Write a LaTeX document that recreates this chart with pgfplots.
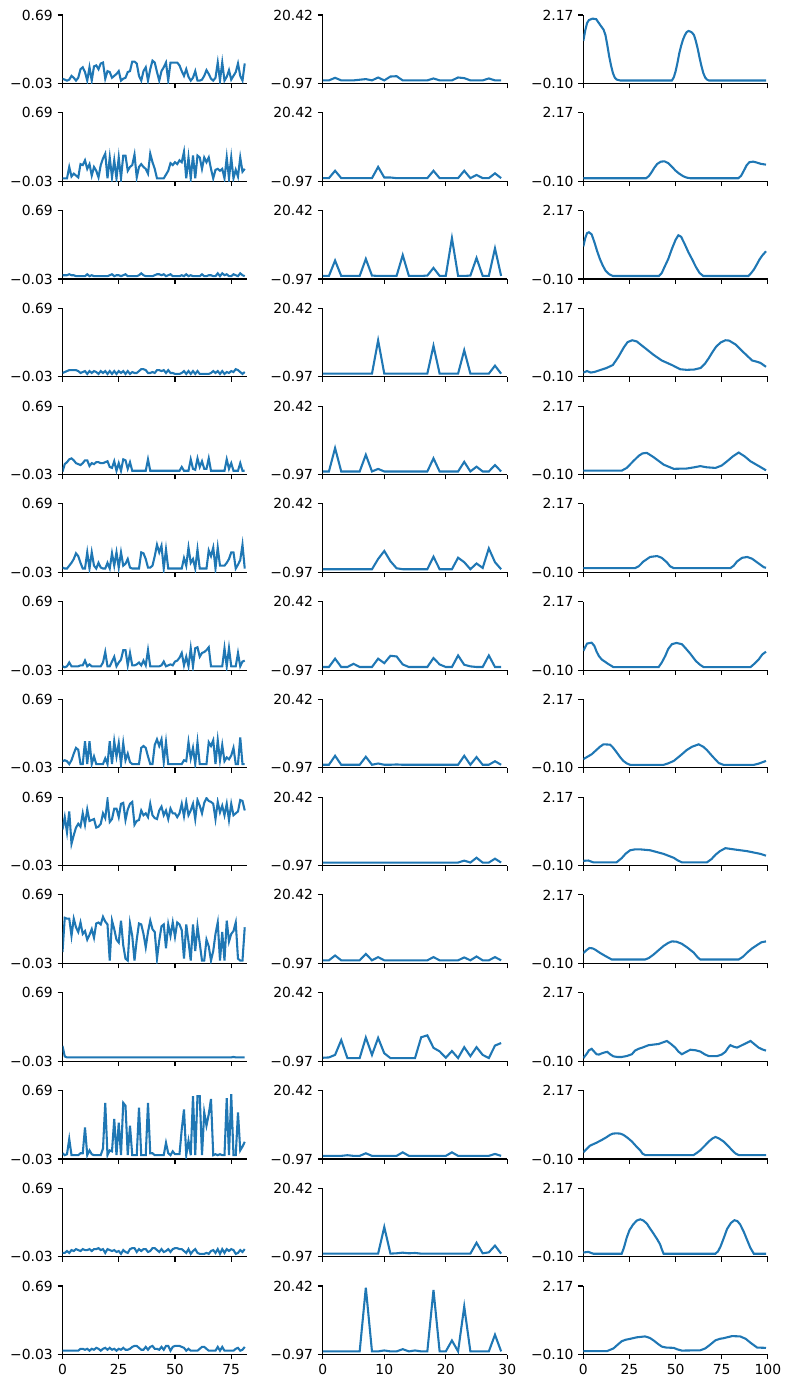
\documentclass[border=0pt]{standalone}
\usepackage{fontspec}
\setmainfont{DejaVu Sans}
\usepackage{pgfplots}
\pgfplotsset{compat=1.18}
\definecolor{mplblue}{RGB}{31,119,180}

\pgfplotsset{
  cell/.style={
    width=132.84pt, height=49.32pt, scale only axis,
    anchor=north west,
    axis x line*=bottom, axis y line*=left,
    axis line style={black, line width=0.8pt, -},
    tick align=outside, major tick length=3.5pt,
    every tick/.style={black, line width=0.8pt},
    tick label style={font=\fontsize{10}{12}\selectfont},
  },
  colA/.style={cell, xmin=0, xmax=82, ymin=-0.03, ymax=0.69,
    xtick={0,25,50,75}, xticklabels={0,25,50,75},
    ytick={-0.03,0.69}, yticklabels={−0.03,0.69}},
  colB/.style={cell, xmin=0, xmax=30, ymin=-0.97, ymax=20.42,
    xtick={0,10,20,30}, xticklabels={0,10,20,30},
    ytick={-0.97,20.42}, yticklabels={−0.97,20.42}},
  colC/.style={cell, xmin=0, xmax=100, ymin=-0.10, ymax=2.17,
    xtick={0,25,50,75,100}, xticklabels={0,25,50,75,100},
    ytick={-0.10,2.17}, yticklabels={−0.10,2.17}},
  series/.style={mplblue, line width=1.5pt, mark=none},
}

% one value per step, x = index
\newcommand{\idx}[1]{\addplot[series] table[row sep=\\, header=false, x expr=\coordindex, y index=0] {#1};}

% #1 top of row, #2 extra options, #3 left data, #4 middle data, #5 right coordinates
\newcommand{\trio}[5]{%
  \begin{axis}[colA, at={(45pt,#1)}, #2]\idx{#3}\end{axis}
  \begin{axis}[colB, at={(232.4pt,#1)}, #2]\idx{#4}\end{axis}
  \begin{axis}[colC, at={(420pt,#1)}, #2]\addplot[series] coordinates {#5};\end{axis}}

\begin{document}
\begin{tikzpicture}
\path[use as bounding box] (0,0) rectangle (568.8pt,1000.08pt);

% row 1
\trio{989.28pt}{xticklabels={}}
{0.02\\0.01\\0.00\\0.01\\0.05\\0.03\\0.00\\0.03\\0.12\\0.14\\0.09\\0.00\\0.14\\0.00\\0.15\\0.16\\0.12\\0.18\\0.19\\0.02\\0.10\\0.09\\0.03\\0.05\\0.07\\0.10\\0.00\\0.02\\0.03\\0.09\\0.10\\0.20\\0.20\\0.18\\0.05\\0.00\\0.10\\0.14\\0.00\\0.12\\0.21\\0.19\\0.09\\0.00\\0.10\\0.14\\0.19\\0.00\\0.19\\0.19\\0.19\\0.19\\0.16\\0.10\\0.05\\0.12\\0.04\\0.00\\0.03\\0.10\\0.00\\0.00\\0.01\\0.05\\0.11\\0.07\\0.02\\0.00\\0.03\\0.19\\0.00\\0.19\\0.00\\0.04\\0.11\\0.01\\0.05\\0.09\\0.18\\0.05\\0.00\\0.18\\}
{0\\0\\0.8\\0\\0\\0\\0.2\\0.4\\0\\0.9\\0\\1.2\\1.3\\0\\0\\0\\0\\0\\0.6\\0\\0\\0\\0.9\\0.7\\0\\0\\0\\0.6\\0\\0\\}
{(0,1.31)(1,1.65)(2,1.9)(3,2.0)(5,2.05)(7,2.03)(9,1.85)(11,1.68)(12,1.5)(13,1.17)(14,0.8)(15,0.5)(16,0.25)(17,0.1)(18,0.03)(20,0)(48,0)(49,0.1)(50,0.3)(51,0.58)(52,0.9)(53,1.15)(54,1.35)(55,1.5)(56,1.6)(57,1.64)(58,1.62)(59,1.58)(60,1.5)(61,1.3)(62,1.05)(63,0.75)(64,0.48)(65,0.25)(66,0.1)(67,0.03)(68,0)(99,0)}

% row 2
\trio{918.89pt}{xticklabels={}}
{0.00\\0.00\\0.00\\0.12\\0.02\\0.05\\0.03\\0.01\\0.15\\0.14\\0.19\\0.10\\0.15\\0.03\\0.12\\0.08\\0.01\\0.14\\0.21\\0.26\\0.00\\0.22\\0.01\\0.19\\0.00\\0.22\\0.00\\0.24\\0.24\\0.08\\0.12\\0.14\\0.25\\0.01\\0.12\\0.15\\0.12\\0.10\\0.05\\0.26\\0.17\\0.10\\0.00\\0.00\\0.00\\0.00\\0.04\\0.08\\0.16\\0.14\\0.17\\0.15\\0.19\\0.17\\0.28\\0.00\\0.22\\0.00\\0.24\\0.00\\0.24\\0.22\\0.10\\0.22\\0.17\\0.22\\0.10\\0.00\\0.09\\0.10\\0.08\\0.10\\0.00\\0.22\\0.00\\0.22\\0.00\\0.09\\0.02\\0.22\\0.07\\0.10\\}
{0\\0\\2.3\\0\\0\\0\\0\\0\\0\\3.5\\0.2\\0.2\\0\\0\\0\\0\\0\\0\\2.3\\0\\0\\0\\0\\2.3\\0\\1.0\\0\\0\\1.5\\0\\}
{(0,0)(34,0)(35.5,0.07)(37,0.2)(38.5,0.35)(40,0.47)(42,0.55)(44,0.56)(46,0.5)(48,0.38)(50,0.25)(52,0.15)(54,0.07)(56,0.02)(58,0)(84,0)(85.5,0.08)(87,0.25)(88.5,0.43)(90,0.53)(92,0.55)(94,0.52)(96,0.48)(99,0.45)}

% row 3
\trio{848.49pt}{xticklabels={}}
{0.01\\0.01\\0.01\\0.02\\0.01\\0.01\\0.00\\0.00\\0.00\\0.00\\0.00\\0.02\\0.00\\0.01\\0.00\\0.00\\0.00\\0.00\\0.00\\0.00\\0.00\\0.01\\0.02\\0.00\\0.01\\0.01\\0.00\\0.01\\0.02\\0.00\\0.00\\0.00\\0.00\\0.00\\0.01\\0.03\\0.01\\0.00\\0.00\\0.00\\0.00\\0.01\\0.02\\0.02\\0.01\\0.02\\0.00\\0.01\\0.02\\0.00\\0.00\\0.00\\0.00\\0.01\\0.00\\0.02\\0.00\\0.01\\0.00\\0.00\\0.00\\0.00\\0.02\\0.00\\0.00\\0.01\\0.01\\0.00\\0.00\\0.03\\0.00\\0.03\\0.01\\0.02\\0.00\\0.00\\0.02\\0.01\\0.00\\0.03\\0.01\\0.00\\}
{0\\0\\4.8\\0\\0\\0\\0\\5.3\\0.1\\0\\0\\0\\0\\6.5\\0\\0\\0\\0.1\\2.5\\0\\0\\11.8\\0\\0\\0.1\\5.6\\0\\0\\8.6\\0\\}
{(0,0.98)(1,1.25)(2,1.42)(3,1.45)(4.5,1.38)(6,1.12)(7.5,0.82)(9,0.56)(10.5,0.35)(12,0.18)(14,0.06)(16,0)(41,0)(42.5,0.1)(44,0.3)(46,0.56)(48,0.9)(50,1.2)(51.5,1.35)(53,1.3)(55,1.05)(57,0.78)(59,0.55)(61,0.3)(63,0.1)(65,0)(89.5,0)(91,0.1)(92.5,0.22)(94,0.38)(95.5,0.55)(97,0.68)(99,0.82)}

% row 4
\trio{778.10pt}{xticklabels={}}
{0.01\\0.02\\0.03\\0.04\\0.04\\0.04\\0.04\\0.03\\0.01\\0.02\\0.03\\0.00\\0.03\\0.01\\0.03\\0.02\\0.00\\0.03\\0.01\\0.03\\0.00\\0.03\\0.00\\0.03\\0.00\\0.03\\0.01\\0.03\\0.00\\0.03\\0.00\\0.02\\0.01\\0.01\\0.03\\0.05\\0.05\\0.04\\0.01\\0.01\\0.02\\0.01\\0.04\\0.04\\0.03\\0.04\\0.01\\0.04\\0.01\\0.01\\0.00\\0.00\\0.00\\0.01\\0.03\\0.00\\0.03\\0.00\\0.03\\0.00\\0.03\\0.00\\0.00\\0.00\\0.00\\0.00\\0.01\\0.03\\0.01\\0.03\\0.00\\0.03\\0.00\\0.02\\0.01\\0.03\\0.02\\0.05\\0.04\\0.02\\0.00\\0.02\\}
{0\\0\\0\\0\\0\\0\\0\\0\\0\\10.4\\0\\0\\0\\0\\0\\0\\0\\0\\8.7\\0\\0\\0\\0\\7.3\\0\\0\\0\\0\\2.5\\0\\}
{(0,0.04)(2,0.09)(4,0.04)(6,0.06)(9,0.12)(12.5,0.19)(16,0.29)(19,0.56)(22,0.88)(24,1.05)(26.5,1.11)(29,1.07)(31,0.97)(33.5,0.85)(38,0.63)(42.5,0.44)(48,0.29)(52.5,0.15)(56,0.13)(60,0.14)(63.5,0.19)(66,0.34)(68,0.52)(70,0.72)(72,0.9)(74.5,1.04)(77,1.11)(79,1.1)(82.5,0.97)(87,0.7)(91.5,0.44)(94,0.4)(96,0.36)(99,0.23)}

% row 5
\trio{707.70pt}{xticklabels={}}
{0.00\\0.08\\0.10\\0.13\\0.14\\0.12\\0.09\\0.08\\0.07\\0.09\\0.12\\0.12\\0.06\\0.09\\0.08\\0.10\\0.10\\0.09\\0.09\\0.10\\0.11\\0.05\\0.04\\0.11\\0.01\\0.09\\0.01\\0.13\\0.12\\0.03\\0.10\\0.01\\0.01\\0.01\\0.01\\0.01\\0.01\\0.01\\0.13\\0.01\\0.01\\0.01\\0.01\\0.01\\0.01\\0.01\\0.01\\0.01\\0.01\\0.01\\0.01\\0.01\\0.01\\0.05\\0.01\\0.01\\0.01\\0.13\\0.03\\0.02\\0.14\\0.05\\0.11\\0.03\\0.03\\0.14\\0.01\\0.01\\0.01\\0.01\\0.01\\0.01\\0.01\\0.13\\0.03\\0.09\\0.01\\0.01\\0.01\\0.09\\0.01\\0.01\\}
{0\\0\\7.3\\0\\0\\0\\0\\5.2\\0\\0.8\\0\\0\\0\\0\\0\\0\\0\\0\\4.1\\0\\0\\0\\0\\3.0\\0\\1.5\\0\\0\\2.0\\0\\}
{(0,0.03)(20.8,0.03)(23.5,0.12)(27,0.34)(30,0.52)(32,0.6)(34.4,0.62)(38,0.48)(43.5,0.23)(49,0.09)(56,0.1)(60,0.14)(63.4,0.18)(67,0.14)(71.6,0.12)(75,0.2)(77.9,0.34)(81,0.5)(84.2,0.63)(87.5,0.5)(90.6,0.34)(96,0.15)(99,0.04)}

% row 6
\trio{637.31pt}{xticklabels={}}
{0.02\\0.01\\0.01\\0.04\\0.07\\0.11\\0.17\\0.14\\0.07\\0.01\\0.01\\0.18\\0.01\\0.18\\0.04\\0.01\\0.07\\0.02\\0.01\\0.01\\0.07\\0.01\\0.17\\0.04\\0.18\\0.02\\0.18\\0.04\\0.06\\0.11\\0.02\\0.01\\0.01\\0.01\\0.01\\0.18\\0.17\\0.11\\0.02\\0.02\\0.04\\0.14\\0.26\\0.18\\0.25\\0.01\\0.21\\0.01\\0.01\\0.01\\0.01\\0.01\\0.01\\0.01\\0.12\\0.04\\0.23\\0.07\\0.11\\0.01\\0.21\\0.01\\0.01\\0.01\\0.01\\0.20\\0.14\\0.23\\0.01\\0.23\\0.04\\0.04\\0.04\\0.07\\0.11\\0.18\\0.18\\0.01\\0.05\\0.10\\0.26\\0.01\\}
{0\\0\\0\\0\\0\\0\\0\\0\\0\\3.2\\5.7\\2.5\\0.3\\0\\0\\0\\0\\0\\3.9\\0\\0\\0\\3.6\\2.2\\0\\1.8\\0.4\\6.5\\2.2\\0\\}
{(0,0.04)(28,0.04)(30,0.1)(32.6,0.26)(36.2,0.41)(40,0.44)(42.5,0.38)(45.3,0.23)(47,0.1)(49,0.04)(79.7,0.04)(81.5,0.12)(83.3,0.26)(86,0.38)(88.8,0.41)(91.5,0.35)(94.2,0.23)(97.8,0.07)(99,0.05)}

% row 7
\trio{566.91pt}{xticklabels={}}
{0.01\\0.00\\0.01\\0.05\\0.01\\0.01\\0.01\\0.01\\0.02\\0.02\\0.07\\0.01\\0.03\\0.01\\0.01\\0.01\\0.01\\0.01\\0.05\\0.16\\0.01\\0.01\\0.06\\0.11\\0.01\\0.05\\0.08\\0.18\\0.18\\0.02\\0.15\\0.02\\0.02\\0.03\\0.05\\0.02\\0.07\\0.02\\0.18\\0.01\\0.01\\0.01\\0.01\\0.01\\0.02\\0.06\\0.01\\0.02\\0.03\\0.02\\0.06\\0.07\\0.10\\0.15\\0.02\\0.11\\0.01\\0.20\\0.01\\0.20\\0.21\\0.11\\0.15\\0.16\\0.18\\0.21\\0.01\\0.01\\0.01\\0.01\\0.01\\0.01\\0.20\\0.01\\0.20\\0.01\\0.01\\0.01\\0.15\\0.01\\0.06\\0.07\\}
{0\\0\\2.6\\0\\0\\1.0\\0\\0\\0\\2.6\\1.2\\3.5\\3.3\\0.8\\0\\0\\0\\0\\2.8\\0.8\\0\\0\\3.6\\0.7\\0.2\\0\\0\\3.6\\0\\0\\}
{(0,0.54)(2,0.78)(4.5,0.81)(6,0.7)(7.2,0.51)(8.5,0.36)(10,0.25)(13.6,0.1)(16.3,0)(40.8,0)(42.5,0.15)(44.4,0.37)(46,0.6)(48,0.76)(50.5,0.8)(53.4,0.76)(55.5,0.62)(58,0.44)(61,0.2)(63.4,0.07)(65.2,0)(90.6,0)(92.5,0.1)(95,0.25)(97,0.42)(99,0.51)}

% row 8
\trio{496.52pt}{xticklabels={}}
{0.04\\0.05\\0.04\\0.01\\0.05\\0.12\\0.18\\0.16\\0.01\\0.01\\0.25\\0.01\\0.25\\0.01\\0.09\\0.01\\0.01\\0.01\\0.01\\0.07\\0.01\\0.25\\0.01\\0.25\\0.09\\0.23\\0.01\\0.23\\0.05\\0.12\\0.03\\0.01\\0.01\\0.01\\0.01\\0.18\\0.20\\0.18\\0.09\\0.01\\0.01\\0.21\\0.27\\0.20\\0.27\\0.03\\0.24\\0.01\\0.01\\0.01\\0.01\\0.01\\0.01\\0.01\\0.05\\0.04\\0.24\\0.07\\0.18\\0.01\\0.24\\0.01\\0.01\\0.01\\0.01\\0.24\\0.20\\0.26\\0.01\\0.26\\0.05\\0.21\\0.04\\0.08\\0.06\\0.10\\0.18\\0.01\\0.01\\0.29\\0.01\\0.01\\}
{0\\0\\2.8\\0\\0\\0\\0\\2.5\\0\\0.4\\0\\0\\0.1\\0\\0\\0\\0\\0\\0\\0\\0\\0\\0\\2.8\\0\\2.4\\0\\0\\1.1\\0\\}
{(0,0.19)(4.5,0.35)(9,0.6)(10.9,0.68)(14.5,0.67)(16,0.58)(18,0.42)(20,0.25)(21.7,0.13)(23.5,0.05)(25.4,0)(43.5,0)(46,0.05)(49,0.13)(53.4,0.35)(56,0.49)(58.9,0.6)(62.5,0.68)(65,0.6)(67,0.49)(70,0.28)(73.4,0.06)(76,0)(92.4,0)(95,0.04)(99,0.13)}

% row 9
\trio{426.12pt}{xticklabels={}}
{0.35\\0.48\\0.32\\0.54\\0.20\\0.29\\0.37\\0.41\\0.38\\0.52\\0.40\\0.56\\0.44\\0.45\\0.46\\0.37\\0.38\\0.41\\0.52\\0.47\\0.66\\0.43\\0.46\\0.57\\0.57\\0.48\\0.62\\0.63\\0.45\\0.56\\0.62\\0.64\\0.40\\0.44\\0.45\\0.55\\0.50\\0.52\\0.48\\0.62\\0.50\\0.47\\0.46\\0.55\\0.59\\0.50\\0.55\\0.46\\0.57\\0.52\\0.52\\0.48\\0.52\\0.62\\0.49\\0.64\\0.50\\0.55\\0.62\\0.46\\0.66\\0.60\\0.52\\0.63\\0.68\\0.65\\0.64\\0.62\\0.46\\0.64\\0.53\\0.60\\0.50\\0.62\\0.45\\0.62\\0.50\\0.52\\0.54\\0.66\\0.65\\0.55\\}
{0\\0\\0\\0\\0\\0\\0\\0\\0\\0\\0\\0\\0\\0\\0\\0\\0\\0\\0\\0\\0\\0\\0\\0.6\\0\\1.5\\0\\0\\1.2\\0\\}
{(0,0.06)(2.7,0.07)(5.4,0.01)(18,0.01)(20.8,0.15)(23,0.3)(25.4,0.41)(28,0.44)(30.8,0.44)(36.2,0.41)(43.5,0.29)(49,0.16)(51,0.08)(53.4,0.01)(67,0.01)(69.5,0.12)(71.6,0.26)(74,0.38)(77,0.48)(81.5,0.44)(88.8,0.38)(96,0.29)(99,0.23)}

% row 10
\trio{355.73pt}{xticklabels={}}
{0.09\\0.45\\0.44\\0.44\\0.26\\0.44\\0.35\\0.30\\0.40\\0.28\\0.31\\0.22\\0.27\\0.33\\0.24\\0.39\\0.40\\0.38\\0.46\\0.41\\0.38\\0.00\\0.42\\0.33\\0.22\\0.19\\0.42\\0.16\\0.02\\0.00\\0.39\\0.26\\0.00\\0.22\\0.39\\0.38\\0.28\\0.14\\0.30\\0.42\\0.33\\0.30\\0.02\\0.21\\0.36\\0.38\\0.13\\0.38\\0.26\\0.40\\0.25\\0.40\\0.38\\0.32\\0.02\\0.38\\0.20\\0.00\\0.38\\0.10\\0.36\\0.18\\0.00\\0.00\\0.22\\0.15\\0.00\\0.10\\0.28\\0.40\\0.00\\0.30\\0.00\\0.42\\0.20\\0.28\\0.31\\0.40\\0.02\\0.00\\0.00\\0.35\\}
{0\\0\\1.5\\0\\0\\0\\0\\2.0\\0\\1.0\\0\\0\\0\\0\\0\\0\\0\\0\\1.0\\0\\0\\0\\0\\0.9\\0\\1.2\\0\\0\\1.0\\0\\}
{(0,0.24)(1.5,0.33)(3.3,0.41)(5,0.4)(6.3,0.36)(9,0.25)(11.8,0.15)(15.4,0.03)(33.5,0.03)(35.5,0.08)(38,0.19)(41,0.35)(43.5,0.48)(46,0.58)(48,0.63)(50.5,0.62)(53.4,0.55)(56.5,0.42)(59.8,0.26)(62,0.1)(63.4,0.03)(84.2,0.03)(86.5,0.12)(88.8,0.26)(91.5,0.4)(94.2,0.51)(96.5,0.6)(99,0.63)}

% row 11
\trio{285.34pt}{xticklabels={}}
{0.13\\0.02\\0.01\\0.01\\0.01\\0.01\\0.01\\0.01\\0.01\\0.01\\0.01\\0.01\\0.01\\0.01\\0.01\\0.01\\0.01\\0.01\\0.01\\0.01\\0.01\\0.01\\0.01\\0.01\\0.01\\0.01\\0.01\\0.01\\0.01\\0.01\\0.01\\0.01\\0.01\\0.01\\0.01\\0.01\\0.01\\0.01\\0.01\\0.01\\0.01\\0.01\\0.01\\0.01\\0.01\\0.01\\0.01\\0.01\\0.01\\0.01\\0.01\\0.01\\0.01\\0.01\\0.01\\0.01\\0.01\\0.01\\0.01\\0.01\\0.01\\0.01\\0.01\\0.01\\0.01\\0.01\\0.01\\0.01\\0.01\\0.01\\0.01\\0.01\\0.01\\0.01\\0.01\\0.01\\0.015\\0.01\\0.01\\0.01\\0.01\\0.01\\}
{0.1\\0.2\\1.0\\5.6\\0\\0\\0\\6.4\\1.0\\6.3\\1.5\\0\\0\\0\\0\\0\\6.5\\7.1\\3.2\\2.1\\0.1\\2.2\\0\\3.4\\0.6\\3.4\\1.0\\0\\3.9\\4.7\\}
{(0,0)(2,0.16)(3,0.26)(4.5,0.31)(5.5,0.24)(7.2,0.13)(8.5,0.12)(10,0.16)(11.5,0.19)(13,0.21)(14.5,0.13)(16.3,0.06)(18.5,0.04)(20.8,0.04)(23.5,0.07)(26.3,0.13)(28,0.25)(29.9,0.31)(32,0.35)(35.3,0.43)(40.8,0.47)(43,0.52)(45.3,0.57)(47.5,0.47)(49.8,0.35)(51.5,0.22)(53.4,0.13)(55.5,0.2)(58,0.28)(61,0.26)(63.4,0.22)(66,0.12)(68,0.07)(72.5,0.07)(75,0.12)(77,0.21)(78.5,0.35)(79.7,0.43)(81.5,0.38)(83.3,0.35)(85,0.4)(87,0.46)(89,0.52)(90.6,0.57)(93,0.45)(95,0.35)(97,0.29)(99,0.25)}

% row 12
\trio{214.94pt}{xticklabels={}}
{0.03\\0.01\\0.02\\0.18\\0.01\\0.01\\0.01\\0.01\\0.03\\0.03\\0.30\\0.01\\0.06\\0.02\\0.01\\0.01\\0.01\\0.01\\0.08\\0.56\\0.01\\0.06\\0.05\\0.39\\0.01\\0.35\\0.01\\0.56\\0.53\\0.01\\0.32\\0.01\\0.01\\0.01\\0.51\\0.01\\0.01\\0.01\\0.56\\0.03\\0.03\\0.01\\0.01\\0.01\\0.01\\0.01\\0.14\\0.03\\0.01\\0.05\\0.02\\0.02\\0.02\\0.28\\0.49\\0.01\\0.16\\0.01\\0.63\\0.01\\0.63\\0.63\\0.01\\0.46\\0.32\\0.44\\0.60\\0.01\\0.02\\0.01\\0.02\\0.01\\0.01\\0.61\\0.01\\0.65\\0.01\\0.01\\0.46\\0.06\\0.10\\0.15\\}
{0\\0\\0\\0\\0.2\\0\\0\\0.8\\0\\0\\0\\0\\0\\1.1\\0\\0\\0\\0\\0\\0\\0\\1.1\\0\\0\\0\\0\\0\\0\\0.6\\0\\}
{(0,0.12)(3.6,0.34)(7.2,0.44)(10,0.53)(12,0.6)(14.5,0.7)(16,0.74)(18,0.75)(20,0.74)(21.7,0.7)(24,0.6)(26.3,0.48)(28.5,0.33)(30.8,0.19)(32,0.08)(33.5,0.03)(59.8,0.03)(61.5,0.1)(63.4,0.19)(66,0.35)(68,0.48)(70,0.58)(71.6,0.63)(73.5,0.58)(76,0.48)(78.5,0.33)(80.6,0.19)(82.5,0.08)(84.2,0.03)(99,0.03)}

% row 13
\trio{144.55pt}{xticklabels={}}
{0.01\\0.01\\0.03\\0.01\\0.04\\0.03\\0.05\\0.04\\0.03\\0.05\\0.04\\0.04\\0.05\\0.03\\0.05\\0.05\\0.06\\0.04\\0.05\\0.01\\0.05\\0.04\\0.03\\0.04\\0.02\\0.03\\0.00\\0.04\\0.02\\0.01\\0.05\\0.06\\0.06\\0.02\\0.05\\0.03\\0.05\\0.05\\0.02\\0.03\\0.06\\0.06\\0.04\\0.02\\0.05\\0.02\\0.03\\0.05\\0.02\\0.05\\0.06\\0.06\\0.05\\0.05\\0.03\\0.01\\0.05\\0.00\\0.03\\0.05\\0.01\\0.00\\0.00\\0.00\\0.01\\0.00\\0.03\\0.04\\0.01\\0.05\\0.00\\0.05\\0.01\\0.05\\0.03\\0.05\\0.04\\0.00\\0.01\\0.04\\0.02\\0.05\\}
{0\\0\\0\\0\\0\\0\\0\\0\\0\\0\\8.3\\0\\0.1\\0.3\\0.1\\0.2\\0\\0\\0\\0\\0\\0\\0\\0\\0\\3.4\\0.1\\0.4\\2.5\\0\\}
{(0,0.04)(2.7,0.06)(5.4,0)(20.8,0)(22,0.2)(23.5,0.53)(25,0.78)(27,0.97)(29,1.1)(30.8,1.14)(32.5,1.1)(34.4,1.0)(36,0.85)(38,0.67)(40,0.48)(41.6,0.31)(42.5,0.15)(43.5,0)(71.6,0)(73,0.08)(74.3,0.23)(76,0.5)(77.9,0.82)(80,1.02)(81.9,1.11)(83.5,1.08)(85,0.97)(87,0.72)(88.8,0.45)(90.5,0.2)(92.4,0)(99,0)}

% row 14 (with x tick labels)
\trio{74.15pt}{}
{0.01\\0.01\\0.01\\0.01\\0.01\\0.01\\0.01\\0.01\\0.03\\0.03\\0.02\\0.03\\0.01\\0.03\\0.02\\0.04\\0.03\\0.01\\0.03\\0.04\\0.02\\0.04\\0.02\\0.03\\0.01\\0.03\\0.02\\0.04\\0.02\\0.02\\0.03\\0.05\\0.06\\0.06\\0.04\\0.02\\0.02\\0.05\\0.02\\0.05\\0.06\\0.03\\0.03\\0.02\\0.05\\0.02\\0.06\\0.06\\0.01\\0.05\\0.06\\0.06\\0.06\\0.05\\0.04\\0.01\\0.03\\0.01\\0.01\\0.01\\0.01\\0.03\\0.05\\0.05\\0.03\\0.01\\0.01\\0.01\\0.01\\0.05\\0.01\\0.05\\0.01\\0.01\\0.01\\0.01\\0.01\\0.03\\0.04\\0.01\\0.02\\0.05\\}
{0\\0\\0\\0\\0\\0\\0\\19.9\\0\\0\\0.3\\0\\0\\0.7\\0\\0.3\\0\\0\\19.2\\0\\0\\3.4\\0\\14.0\\0\\0\\0\\0\\5.2\\0\\}
{(0,0.01)(12.7,0.01)(16.3,0.1)(18.5,0.22)(20.8,0.34)(23,0.39)(25.4,0.42)(29,0.47)(33.5,0.5)(36,0.45)(38,0.37)(40.5,0.25)(42.6,0.16)(45,0.13)(49,0.12)(51,0.07)(53.4,0.03)(63.4,0.04)(66,0.1)(68,0.19)(71.6,0.37)(74,0.42)(76,0.44)(80.6,0.51)(85,0.5)(88,0.42)(90.6,0.29)(94.2,0.13)(99,0.12)}

\end{tikzpicture}
\end{document}
